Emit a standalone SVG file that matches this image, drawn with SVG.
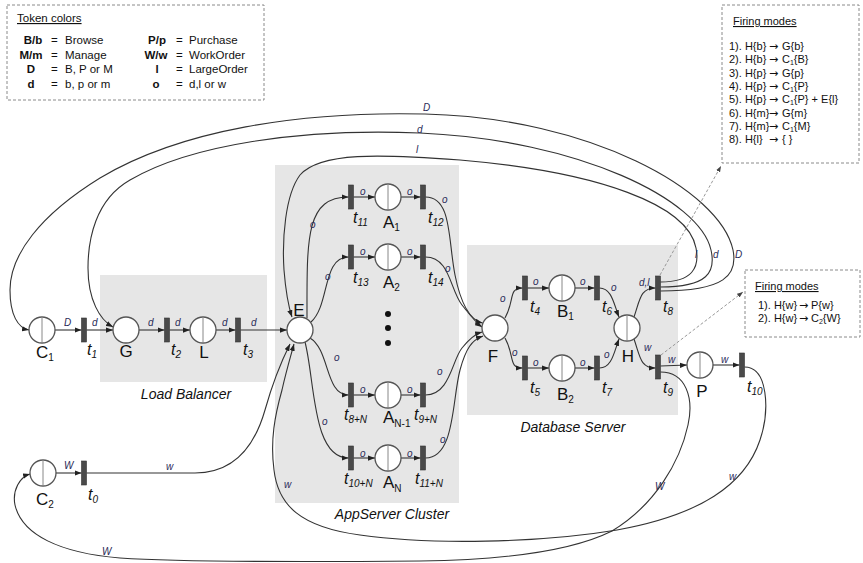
<svg xmlns="http://www.w3.org/2000/svg" width="863" height="563" viewBox="0 0 863 563">
<defs>
<style>
text{font-family:"Liberation Sans",Arial,sans-serif;fill:#111}
.box{fill:none;stroke:#8a8a8a;stroke-width:1;stroke-dasharray:3,2}
.reg{fill:#e6e6e6}
.rl{font-size:14px;font-style:italic;text-anchor:middle}
.pl{fill:#fff;stroke:#555;stroke-width:1.3}
.sp{stroke:#888;stroke-width:1}
.tr{fill:#4a4a4a;stroke:#333;stroke-width:0.6}
.nl{font-size:17px}
.tl{font-size:16px;font-style:italic}
.sub{font-size:10px}
.fs{font-size:7px}
.e{fill:none;stroke:#333;stroke-width:1.1;marker-end:url(#ah)}
.dl{fill:none;stroke:#999;stroke-width:1;stroke-dasharray:3,2;marker-end:url(#ahg)}
.al{font-size:10px;font-style:italic;fill:#2a2a58}
.lg{font-size:11.5px}
.lk{font-size:11.5px;font-weight:bold;text-anchor:middle}
.fm{font-size:11px}
.ar{font-family:"DejaVu Sans",sans-serif;font-size:11px}
</style>
<marker id="ah" viewBox="0 0 8 6" refX="8" refY="3" markerWidth="7" markerHeight="5.5" orient="auto" markerUnits="userSpaceOnUse"><path d="M0,0 L8,3 L0,6 z" fill="#222"/></marker>
<marker id="ahg" viewBox="0 0 8 6" refX="8" refY="3" markerWidth="6" markerHeight="5" orient="auto" markerUnits="userSpaceOnUse"><path d="M0,0 L8,3 L0,6 z" fill="#444"/></marker>
</defs>
<rect width="863" height="563" fill="#fff"/>

<g id="regions">
<rect class="reg" x="100" y="275" width="167" height="107"/>
<rect class="reg" x="275" y="165" width="184" height="338"/>
<rect class="reg" x="467" y="245" width="211" height="170"/>
<text class="rl" x="186" y="399">Load Balancer</text>
<text class="rl" x="392" y="519">AppServer Cluster</text>
<text class="rl" x="573" y="432">Database Server</text>
</g>

<g id="legend">
<rect class="box" x="7" y="5" width="257" height="95"/>
<text class="lg" x="17" y="22" text-decoration="underline">Token colors</text>
<text class="lk" x="33" y="44">B/b</text><text class="lg" x="51" y="44">=</text><text class="lg" x="65" y="44">Browse</text>
<text class="lk" x="31" y="59">M/m</text><text class="lg" x="51" y="59">=</text><text class="lg" x="65" y="59">Manage</text>
<text class="lk" x="31" y="73">D</text><text class="lg" x="51" y="73">=</text><text class="lg" x="65" y="73">B, P or M</text>
<text class="lk" x="31" y="88">d</text><text class="lg" x="51" y="88">=</text><text class="lg" x="65" y="88">b, p or m</text>
<text class="lk" x="157" y="44">P/p</text><text class="lg" x="176" y="44">=</text><text class="lg" x="189" y="44">Purchase</text>
<text class="lk" x="156" y="59">W/w</text><text class="lg" x="176" y="59">=</text><text class="lg" x="189" y="59">WorkOrder</text>
<text class="lk" x="157" y="73">l</text><text class="lg" x="176" y="73">=</text><text class="lg" x="189" y="73">LargeOrder</text>
<text class="lk" x="156" y="88">o</text><text class="lg" x="176" y="88">=</text><text class="lg" x="189" y="88">d,l or w</text>
</g>

<g id="firing-modes-t8">
<rect class="box" x="722" y="5" width="137" height="158"/>
<text class="fm" x="733" y="25" text-decoration="underline">Firing modes</text>
<text class="fm" x="729" y="50">1). H{b}</text><text class="ar" x="769" y="50">→</text><text class="fm" x="782" y="50">G{b}</text>
<text class="fm" x="729" y="63.3">2). H{b}</text><text class="ar" x="769" y="63.3">→</text><text class="fm" x="782" y="63.3">C<tspan class="fs" dy="2">1</tspan><tspan dy="-2">{B}</tspan></text>
<text class="fm" x="729" y="76.6">3). H{p}</text><text class="ar" x="769" y="76.6">→</text><text class="fm" x="782" y="76.6">G{p}</text>
<text class="fm" x="729" y="90">4). H{p}</text><text class="ar" x="769" y="90">→</text><text class="fm" x="782" y="90">C<tspan class="fs" dy="2">1</tspan><tspan dy="-2">{P}</tspan></text>
<text class="fm" x="729" y="103.3">5). H{p}</text><text class="ar" x="769" y="103.3">→</text><text class="fm" x="782" y="103.3">C<tspan class="fs" dy="2">1</tspan><tspan dy="-2">{P} + E{l}</tspan></text>
<text class="fm" x="729" y="116.6">6). H{m}</text><text class="ar" x="769" y="116.6">→</text><text class="fm" x="782" y="116.6">G{m}</text>
<text class="fm" x="729" y="130">7). H{m}</text><text class="ar" x="769" y="130">→</text><text class="fm" x="782" y="130">C<tspan class="fs" dy="2">1</tspan><tspan dy="-2">{M}</tspan></text>
<text class="fm" x="729" y="143.3">8). H{l}</text><text class="ar" x="769" y="143.3">→</text><text class="fm" x="782" y="143.3">{ }</text>
</g>

<g id="firing-modes-t9">
<rect class="box" x="745" y="270" width="115" height="67"/>
<text class="fm" x="755" y="290" text-decoration="underline">Firing modes</text>
<text class="fm" x="758" y="309">1). H{w}</text><text class="ar" x="799" y="309">→</text><text class="fm" x="811" y="309">P{w}</text>
<text class="fm" x="758" y="322">2). H{w}</text><text class="ar" x="799" y="322">→</text><text class="fm" x="811" y="322">C<tspan class="fs" dy="2">2</tspan><tspan dy="-2">{W}</tspan></text>
</g>

<g id="connectors">
<path class="e" d="M55,330 L81.5,330"/>
<path class="e" d="M86.5,330 L113,330"/>
<path class="e" d="M139,330 L164.5,330"/>
<path class="e" d="M169.5,330 L190,330"/>
<path class="e" d="M216,330 L235.5,330"/>
<path class="e" d="M240.5,330 L287,330"/>
<path class="e" d="M56,473 L81.5,473"/>
<path class="e" d="M86.5,473 L195,473 C235,473 255,445 265,410 C272,385 282,360 290,344"/>
<path class="e" d="M307,318 C307,240 305,197 348.5,197"/>
<path class="e" d="M311,322 C330,305 322,257 348.5,257"/>
<path class="e" d="M310,338 C330,350 325,395 348.5,395"/>
<path class="e" d="M305,342 C315,380 312,458 348.5,458"/>
<path class="e" d="M353.5,197 L375,197"/>
<path class="e" d="M401,197 L420.5,197"/>
<path class="e" d="M353.5,257 L375,257"/>
<path class="e" d="M401,257 L420.5,257"/>
<path class="e" d="M353.5,395 L375,395"/>
<path class="e" d="M401,395 L420.5,395"/>
<path class="e" d="M353.5,458 L375,458"/>
<path class="e" d="M401,458 L420.5,458"/>
<path class="e" d="M425.5,197 C452,197 448,240 455,275 C461,305 470,320 482.5,323"/>
<path class="e" d="M425.5,257 C450,257 450,290 462,305 C470,315 475,322 482,327"/>
<path class="e" d="M425.5,395 C450,395 452,360 462,348 C470,338 475,334 482,332"/>
<path class="e" d="M425.5,458 C455,458 452,400 460,370 C466,348 472,340 483,336"/>
<path class="e" d="M505,318 C515,300 508,288 522.5,288"/>
<path class="e" d="M505,338 C515,356 508,368 522.5,368"/>
<path class="e" d="M527.5,288 L549,288"/>
<path class="e" d="M575,288 L594.5,288"/>
<path class="e" d="M527.5,368 L549,368"/>
<path class="e" d="M575,368 L594.5,368"/>
<path class="e" d="M599.5,288 C612,288 614,305 619,317"/>
<path class="e" d="M599.5,368 C612,368 614,352 619,339"/>
<path class="e" d="M634,317 C640,300 640,288 655.5,288"/>
<path class="e" d="M634,339 C640,356 640,368 655.5,368"/>
<path class="e" d="M660.5,366 L687,365"/>
<path class="e" d="M713,365 L739.5,365"/>
<path class="e" d="M660.5,282 C692,282 700,268 696,248 C688,205 600,172 460,160 C380,154 320,152 300,175 C285,195 282,240 284,270 C286,295 289,308 292,317"/>
<path class="e" d="M660.5,287 C708,287 716,272 711,250 C700,200 580,140 420,133 C300,128 190,145 130,180 C95,200 88,240 88,268 C88,300 100,320 113,327"/>
<path class="e" d="M660.5,291 C725,291 738,275 733,250 C720,190 590,118 425,114 C300,111 180,130 100,178 C40,215 10,255 10,290 C10,315 18,328 29,330"/>
<path class="e" d="M660.5,372 C686,372 694,398 688,425 C680,462 655,505 612,531 C570,552 500,560 420,561 C300,562 180,562 120,558 C60,553 22,535 15,505 C12,490 20,477 30,474"/>
<path class="e" d="M744.5,367 C768,367 770,410 760,440 C745,485 700,515 617,530 C540,543 430,545 360,535 C300,527 278,505 274,470 C270,440 275,415 282,390 C286,372 291,355 294,344"/>
<path class="dl" d="M660,275 L721,166"/>
<path class="dl" d="M661,355 L743,292"/>
<text class="al" x="64" y="326">D</text>
<text class="al" x="92" y="326">d</text>
<text class="al" x="148" y="326">d</text>
<text class="al" x="175" y="326">d</text>
<text class="al" x="222" y="326">d</text>
<text class="al" x="251" y="326">d</text>
<text class="al" x="360" y="195">o</text>
<text class="al" x="407" y="195">o</text>
<text class="al" x="360" y="255">o</text>
<text class="al" x="407" y="255">o</text>
<text class="al" x="360" y="393">o</text>
<text class="al" x="407" y="393">o</text>
<text class="al" x="360" y="457">o</text>
<text class="al" x="407" y="457">o</text>
<text class="al" x="310" y="228">o</text>
<text class="al" x="325" y="280">o</text>
<text class="al" x="442" y="203">o</text>
<text class="al" x="445" y="272">o</text>
<text class="al" x="334" y="361">o</text>
<text class="al" x="322" y="425">o</text>
<text class="al" x="437" y="375">o</text>
<text class="al" x="440" y="443">o</text>
<text class="al" x="500" y="302">o</text>
<text class="al" x="512" y="356">o</text>
<text class="al" x="533" y="285">o</text>
<text class="al" x="580" y="285">o</text>
<text class="al" x="533" y="366">o</text>
<text class="al" x="580" y="366">o</text>
<text class="al" x="611" y="291">o</text>
<text class="al" x="604" y="358">o</text>
<text class="al" x="639" y="286">d,l</text>
<text class="al" x="644" y="351">w</text>
<text class="al" x="668" y="363">w</text>
<text class="al" x="721" y="363">w</text>
<text class="al" x="695" y="258">l</text>
<text class="al" x="713" y="258">d</text>
<text class="al" x="735" y="258">D</text>
<text class="al" x="423" y="111">D</text>
<text class="al" x="417" y="133">d</text>
<text class="al" x="416" y="153">l</text>
<text class="al" x="64" y="469">W</text>
<text class="al" x="166" y="470">w</text>
<text class="al" x="284" y="488">w</text>
<text class="al" x="655" y="490">W</text>
<text class="al" x="729" y="480">w</text>
<text class="al" x="102" y="555">W</text>
</g>

<g id="C1"><circle class="pl" cx="42" cy="330" r="13"/><line class="sp" x1="42" y1="317" x2="42" y2="343"/><text class="nl" x="36" y="358">C<tspan class="sub" dy="3">1</tspan></text></g>
<g id="G"><circle class="pl" cx="126" cy="330" r="13"/><text class="nl" x="126" y="357" text-anchor="middle">G</text></g>
<g id="L"><circle class="pl" cx="203" cy="330" r="13"/><line class="sp" x1="203" y1="317" x2="203" y2="343"/><text class="nl" x="204" y="358" text-anchor="middle">L</text></g>
<g id="E"><circle class="pl" cx="300" cy="330" r="13"/><text class="nl" x="299" y="316" text-anchor="middle">E</text></g>
<g id="A1"><circle class="pl" cx="388" cy="197" r="13"/><line class="sp" x1="388" y1="184" x2="388" y2="210"/><text class="nl" x="383" y="228">A<tspan class="sub" dy="3">1</tspan></text></g>
<g id="A2"><circle class="pl" cx="388" cy="257" r="13"/><line class="sp" x1="388" y1="244" x2="388" y2="270"/><text class="nl" x="383" y="288">A<tspan class="sub" dy="3">2</tspan></text></g>
<g id="dots"><circle cx="388" cy="314" r="3" fill="#111"/><circle cx="388" cy="328" r="3" fill="#111"/><circle cx="388" cy="343" r="3" fill="#111"/></g>
<g id="AN-1"><circle class="pl" cx="388" cy="395" r="13"/><line class="sp" x1="388" y1="382" x2="388" y2="408"/><text class="nl" x="383" y="423">A<tspan class="sub" dy="4">N-1</tspan></text></g>
<g id="AN"><circle class="pl" cx="388" cy="458" r="13"/><line class="sp" x1="388" y1="445" x2="388" y2="471"/><text class="nl" x="383" y="488">A<tspan class="sub" dy="4">N</tspan></text></g>
<g id="F"><circle class="pl" cx="495" cy="328" r="13"/><text class="nl" x="493" y="362" text-anchor="middle">F</text></g>
<g id="B1"><circle class="pl" cx="562" cy="288" r="13"/><line class="sp" x1="562" y1="275" x2="562" y2="301"/><text class="nl" x="557" y="317">B<tspan class="sub" dy="3">1</tspan></text></g>
<g id="B2"><circle class="pl" cx="562" cy="368" r="13"/><line class="sp" x1="562" y1="355" x2="562" y2="381"/><text class="nl" x="557" y="400">B<tspan class="sub" dy="3">2</tspan></text></g>
<g id="H"><circle class="pl" cx="627" cy="328" r="13"/><line class="sp" x1="627" y1="315" x2="627" y2="341"/><text class="nl" x="628" y="362" text-anchor="middle">H</text></g>
<g id="P"><circle class="pl" cx="700" cy="365" r="13"/><line class="sp" x1="700" y1="352" x2="700" y2="378"/><text class="nl" x="702" y="397" text-anchor="middle">P</text></g>
<g id="C2"><circle class="pl" cx="43" cy="473" r="13"/><line class="sp" x1="43" y1="460" x2="43" y2="486"/><text class="nl" x="36" y="505">C<tspan class="sub" dy="3">2</tspan></text></g>

<g id="t1"><rect class="tr" x="81.5" y="318" width="5" height="24"/><text class="tl" x="87" y="355">t<tspan class="sub" dy="3">1</tspan></text></g>
<g id="t2"><rect class="tr" x="164.5" y="318" width="5" height="24"/><text class="tl" x="171" y="355">t<tspan class="sub" dy="3">2</tspan></text></g>
<g id="t3"><rect class="tr" x="235.5" y="318" width="5" height="24"/><text class="tl" x="243" y="355">t<tspan class="sub" dy="3">3</tspan></text></g>
<g id="t0"><rect class="tr" x="81.5" y="461" width="5" height="24"/><text class="tl" x="88" y="500">t<tspan class="sub" dy="3">0</tspan></text></g>
<g id="t11"><rect class="tr" x="348.5" y="185" width="5" height="24"/><text class="tl" x="353" y="223">t<tspan class="sub" dy="3">11</tspan></text></g>
<g id="t12"><rect class="tr" x="420.5" y="185" width="5" height="24"/><text class="tl" x="428" y="223">t<tspan class="sub" dy="3">12</tspan></text></g>
<g id="t13"><rect class="tr" x="348.5" y="245" width="5" height="24"/><text class="tl" x="353" y="283">t<tspan class="sub" dy="3">13</tspan></text></g>
<g id="t14"><rect class="tr" x="420.5" y="245" width="5" height="24"/><text class="tl" x="428" y="283">t<tspan class="sub" dy="3">14</tspan></text></g>
<g id="t8N"><rect class="tr" x="348.5" y="383" width="5" height="24"/><text class="tl" x="344" y="420">t<tspan class="sub" dy="3">8+N</tspan></text></g>
<g id="t9N"><rect class="tr" x="420.5" y="383" width="5" height="24"/><text class="tl" x="414" y="420">t<tspan class="sub" dy="3">9+N</tspan></text></g>
<g id="t10N"><rect class="tr" x="348.5" y="446" width="5" height="24"/><text class="tl" x="344" y="484">t<tspan class="sub" dy="3">10+N</tspan></text></g>
<g id="t11N"><rect class="tr" x="420.5" y="446" width="5" height="24"/><text class="tl" x="415" y="484">t<tspan class="sub" dy="3">11+N</tspan></text></g>
<g id="t4"><rect class="tr" x="522.5" y="276" width="5" height="24"/><text class="tl" x="530" y="312">t<tspan class="sub" dy="3">4</tspan></text></g>
<g id="t5"><rect class="tr" x="522.5" y="356" width="5" height="24"/><text class="tl" x="530" y="393">t<tspan class="sub" dy="3">5</tspan></text></g>
<g id="t6"><rect class="tr" x="594.5" y="276" width="5" height="24"/><text class="tl" x="602" y="312">t<tspan class="sub" dy="3">6</tspan></text></g>
<g id="t7"><rect class="tr" x="594.5" y="356" width="5" height="24"/><text class="tl" x="602" y="393">t<tspan class="sub" dy="3">7</tspan></text></g>
<g id="t8"><rect class="tr" x="655.5" y="276" width="5" height="24"/><text class="tl" x="663" y="312">t<tspan class="sub" dy="3">8</tspan></text></g>
<g id="t9"><rect class="tr" x="655.5" y="355" width="5" height="24"/><text class="tl" x="663" y="393">t<tspan class="sub" dy="3">9</tspan></text></g>
<g id="t10"><rect class="tr" x="739.5" y="353" width="5" height="24"/><text class="tl" x="747" y="392">t<tspan class="sub" dy="3">10</tspan></text></g>
</svg>
